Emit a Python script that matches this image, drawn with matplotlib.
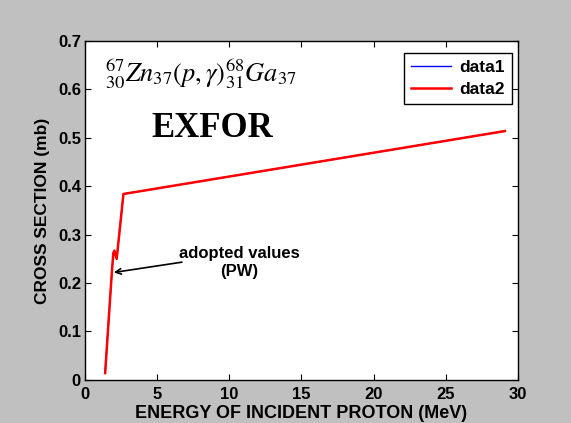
import matplotlib
matplotlib.use("Agg")
import matplotlib.pyplot as plt

# cross section data
energy = [1.39, 1.85, 1.96, 2.03, 2.19, 2.66, 29.1]
xs_data1 = [0.014, 0.220, 0.262, 0.267, 0.250, 0.384, 0.514]
xs_data2 = [0.014, 0.220, 0.262, 0.267, 0.250, 0.384, 0.514]

x_ticks = [0, 5, 10, 15, 20, 25, 30]
y_ticks = [0, 0.1, 0.2, 0.3, 0.4, 0.5, 0.6, 0.7]

plt.rcParams["font.family"] = ["Liberation Sans", "DejaVu Sans"]
plt.rcParams["mathtext.fontset"] = "stix"

fig = plt.figure(figsize=(5.71, 4.23), dpi=100, facecolor="#c0c0c0")
ax = fig.add_axes([0.149, 0.102, 0.758, 0.801])
ax.set_facecolor("white")

ax.plot(energy, xs_data1, color="blue", linewidth=1.0, label="data1")
ax.plot(energy, xs_data2, color="red", linewidth=1.8, label="data2")

ax.set_xlim(0, 30)
ax.set_ylim(0, 0.7)
ax.set_xticks(x_ticks)
ax.set_yticks(y_ticks)
ax.set_xticklabels([str(t) for t in x_ticks])
ax.set_yticklabels(["0"] + [f"{t:.1f}" for t in y_ticks[1:]])
ax.tick_params(direction="in", top=True, right=True, length=4, labelsize=12, pad=3)
ax.tick_params(axis="x", pad=5)
for lbl in ax.get_xticklabels() + ax.get_yticklabels():
    lbl.set_fontweight("bold")
for sp in ax.spines.values():
    sp.set_linewidth(1.0)

ax.set_xlabel("ENERGY OF INCIDENT PROTON (MeV)", fontsize=13, fontweight="bold", labelpad=2)
ax.set_ylabel("CROSS SECTION (mb)", fontsize=12.5, fontweight="bold", labelpad=6)

ax.text(1.4, 0.632, r"$^{67}_{30}Zn_{37}(p,\gamma)^{68}_{31}Ga_{37}$", fontsize=19,
        va="center", ha="left")
ax.text(8.8, 0.519, "EXFOR", fontsize=25, fontweight="bold", family="Liberation Serif",
        va="center", ha="center")

ax.annotate("", xy=(1.8, 0.221), xytext=(6.9, 0.244),
            arrowprops=dict(arrowstyle="->", color="black", lw=1.2))
ax.text(10.7, 0.243, "adopted values\n(PW)", fontsize=12, fontweight="bold",
        ha="center", va="center", linespacing=1.25)

leg = ax.legend(loc="upper right", bbox_to_anchor=(0.986, 0.965), borderaxespad=0,
                fancybox=False, edgecolor="black", framealpha=1, fontsize=12.5,
                handlelength=2.3, borderpad=0.4, labelspacing=0.4, handletextpad=0.5)
leg.get_frame().set_linewidth(1.0)
for t in leg.get_texts():
    t.set_fontweight("bold")

fig.savefig("out.png", dpi=100, facecolor=fig.get_facecolor())
